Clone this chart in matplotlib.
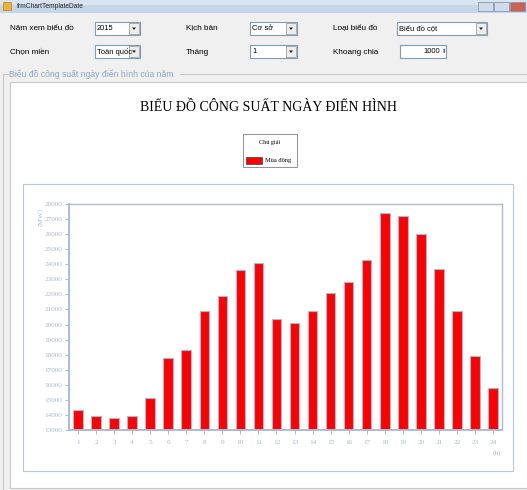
import numpy as np
import matplotlib
matplotlib.use("Agg")
import matplotlib.pyplot as plt
from matplotlib.patches import Rectangle, Polygon

# hourly load of a typical winter day
hours = list(range(1, 25))
load_mw = [14300, 13900, 13800, 13900, 15100, 17800, 18300, 20900, 21900, 23600, 24100, 20400,
           20100, 20900, 22100, 22800, 24300, 27400, 27200, 26000, 23700, 20900, 17900, 15800]
y_ticks = list(range(13000, 28001, 1000))
series_name = "Mùa đông"
chart_title = "BIỂU ĐỒ CÔNG SUẤT NGÀY ĐIỂN HÌNH"

W, H = 527, 490
axis_col = "#a9bcd8"
label_col = "#a8b8d0"

fig = plt.figure(figsize=(W / 100, H / 100), dpi=100)
fig.patch.set_facecolor("#f0f0f0")

# pixel-space canvas for the form controls
ui = fig.add_axes([0, 0, 1, 1])
ui.set_xlim(0, W)
ui.set_ylim(H, 0)
ui.axis("off")

ui_font = "Liberation Sans"


def rect(x0, y0, x1, y1, fc="white", ec="#7f9db9", lw=0.8, z=1):
    ui.add_patch(Rectangle((x0, y0), x1 - x0, y1 - y0, facecolor=fc, edgecolor=ec, lw=lw, zorder=z))


def combo(x0, y0, x1, y1, text, align="left"):
    rect(x0, y0, x1, y1)
    rect(x1 - 11, y0 + 1, x1 - 1, y1 - 1, fc="#eeeeee", ec="#a0a0a0", lw=0.6, z=2)
    cx = x1 - 6
    cy = (y0 + y1) / 2
    ui.add_patch(Polygon([[cx - 2, cy - 1], [cx + 2, cy - 1], [cx, cy + 1.5]], closed=True,
                         facecolor="#222222", edgecolor="none", zorder=3))
    ui.text(x0 + 2, cy, text, fontsize=5.4, family=ui_font, va="center", ha="left", zorder=3)


# title bar
ui.add_patch(Rectangle((0, 0), W, 13, facecolor="#c5d6ea", edgecolor="none", zorder=1))
ui.add_patch(Rectangle((0, 0), W, 5, facecolor="#d8e4f2", edgecolor="none", zorder=1))
ui.add_patch(Rectangle((3, 2), 8, 8, facecolor="#f0b030", edgecolor="#c08020", lw=0.5, zorder=2))
ui.text(17, 6.5, "frmChartTemplateDate", fontsize=4.8, family=ui_font, va="center", color="#222222")
for bx, fc in [(478, "#d0dcea"), (494, "#d0dcea"), (510, "#d06050")]:
    rect(bx, 2, bx + 15, 11, fc=fc, ec="#8898b0", lw=0.6, z=2)

# form labels and inputs
row1, row2 = 28, 52
lab_size = 5.9
ui.text(10, row1, "Năm xem biểu đồ", fontsize=lab_size, family=ui_font, va="center")
ui.text(186, row1, "Kịch bản", fontsize=lab_size, family=ui_font, va="center")
ui.text(333, row1, "Loại biểu đồ", fontsize=lab_size, family=ui_font, va="center")
ui.text(10, row2, "Chọn miền", fontsize=lab_size, family=ui_font, va="center")
ui.text(186, row2, "Tháng", fontsize=lab_size, family=ui_font, va="center")
ui.text(333, row2, "Khoang chia", fontsize=lab_size, family=ui_font, va="center")
combo(95, 22, 140, 35, "2015")
combo(250, 22, 297, 35, "Cơ sở")
combo(397, 22, 487, 35, "Biểu đồ cột")
combo(95, 45, 140, 58, "Toàn quốc")
combo(250, 45, 297, 58, "1")
rect(400, 45, 446, 58)
ui.text(440, 51.5, "1000", fontsize=5.4, family=ui_font, va="center", ha="right", zorder=3)
ui.text(443, 51.5, "⬍", fontsize=4, family="DejaVu Sans", va="center", ha="center", color="#4060a0", zorder=3)

# group box frame and chart panel
ui.plot([3, 8], [74, 74], color="#c8c8c8", lw=0.8)
ui.plot([3, 3], [74, 490], color="#c8c8c8", lw=0.8)
ui.plot([180, W], [74, 74], color="#c8c8c8", lw=0.8)
ui.text(9, 74.5, "Biểu đồ công suất ngày điển hình của năm", fontsize=6.2, family=ui_font,
        va="center", color="#8ea6c8")
rect(10, 82, W + 2, 488, fc="white", ec="#c8c8c8", lw=0.8)
rect(23, 184, 513, 471, fc="white", ec="#b8c8dc", lw=0.8, z=2)

ui.text(268, 107, chart_title, fontsize=10, family="Liberation Serif", ha="center", va="center", zorder=3)

# legend
rect(243, 134, 297, 167, fc="white", ec="#808080", lw=0.6, z=3)
ui.text(270, 142, "Chú giải", fontsize=4.4, family="Liberation Serif", ha="center", va="center", zorder=4)
rect(246, 157, 262, 164, fc="red", ec="#444444", lw=0.5, z=4)
ui.text(265, 160.5, series_name, fontsize=4.6, family="Liberation Serif", ha="left", va="center", zorder=4)

# chart axes
x0, y0, x1, y1 = 69, 204, 502, 430
ax = fig.add_axes([x0 / W, (H - y1) / H, (x1 - x0) / W, (y1 - y0) / H])
ax.set_zorder(5)
ax.set_facecolor("white")
ax.bar(hours, load_mw, width=0.53, color="red", edgecolor="#a8b8d4", linewidth=0.8)
ax.set_xlim(0.5, 24.5)
ax.set_ylim(y_ticks[0], y_ticks[-1])
ax.set_xticks(hours)
ax.set_yticks(y_ticks)
for sp in ax.spines.values():
    sp.set_color(axis_col)
    sp.set_linewidth(1.0)
ax.spines["left"].set_linewidth(1.4)
ax.spines["bottom"].set_linewidth(1.4)
ax.tick_params(colors=axis_col, labelcolor=label_col, labelsize=5.2, length=3, width=0.8)
for lab in ax.get_xticklabels() + ax.get_yticklabels():
    lab.set_family("Liberation Serif")
ax.tick_params(axis="x", pad=4)
ax.tick_params(axis="y", pad=2)

fig.text(41 / W, 1 - 217 / H, "(MW)", rotation=90, fontsize=5.2, family="Liberation Serif",
         color=label_col, ha="center", va="center", zorder=6)
fig.text(497 / W, 1 - 453 / H, "(h)", fontsize=5.2, family="Liberation Serif",
         color=label_col, ha="center", va="center", zorder=6)

fig.savefig("out.png", dpi=100, facecolor=fig.get_facecolor())
